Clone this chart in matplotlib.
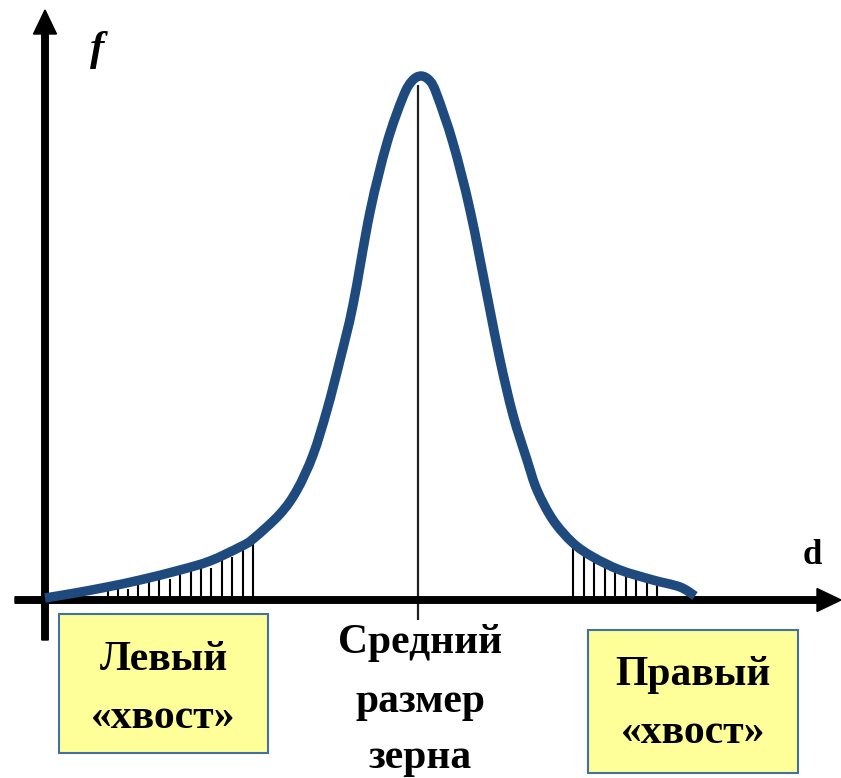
import matplotlib
matplotlib.use("Agg")
import matplotlib.pyplot as plt
import numpy as np
from matplotlib.patches import FancyArrow, Rectangle, PathPatch
from matplotlib.path import Path

# Grain-size distribution curve f(d)
curve_d = [0.00, 0.30, 0.62, 0.95, 1.35, 1.65, 1.95, 2.08, 2.35, 2.52,
           2.68, 2.82, 2.95, 3.08, 3.25, 3.42, 3.58, 3.67, 3.76, 3.85, 3.92,
           4.08, 4.25, 4.43, 4.55, 4.68, 4.82, 4.92, 5.08, 5.28, 5.48, 5.75,
           6.08, 6.35, 6.50]
curve_f = [0.02, 0.07, 0.13, 0.20, 0.30, 0.39, 0.53, 0.61, 0.86, 1.10,
           1.45, 1.90, 2.40, 2.95, 3.88, 4.57, 5.03, 5.19, 5.24, 5.19, 5.05,
           4.57, 3.90, 3.00, 2.40, 1.85, 1.40, 1.10, 0.80, 0.57, 0.43, 0.30,
           0.20, 0.13, 0.04]

# Hatching under the left tail
left_hatch_d = [0.63, 0.73, 0.83, 0.93, 1.04, 1.14, 1.25, 1.35, 1.46, 1.56,
                1.66, 1.77, 1.87, 1.98, 2.08]
left_hatch_f = [0.11, 0.11, 0.11, 0.21, 0.21, 0.21, 0.21, 0.32, 0.32, 0.32,
                0.32, 0.43, 0.43, 0.53, 0.57]

# Hatching under the right tail
right_hatch_d = [5.28, 5.39, 5.49, 5.60, 5.70, 5.81, 5.91, 6.02, 6.12]
right_hatch_f = [0.53, 0.53, 0.42, 0.32, 0.32, 0.32, 0.22, 0.22, 0.22]

# Mean grain size
mean_d = 3.73
mean_top = 5.15

serif = ["Liberation Serif", "DejaVu Serif"]


def smooth_path(xs, ys):
    """Cubic Bezier path passing through every point (Catmull-Rom tangents)."""
    p = np.column_stack([xs, ys]).astype(float)
    ext = np.vstack([p[0], p, p[-1]])
    verts = [p[0]]
    codes = [Path.MOVETO]
    for i in range(len(p) - 1):
        p0, p1, p2, p3 = ext[i], ext[i + 1], ext[i + 2], ext[i + 3]
        c1 = p1 + (p2 - p0) / 6.0
        c2 = p2 - (p3 - p1) / 6.0
        verts += [c1, c2, p2]
        codes += [Path.CURVE4] * 3
    return Path(verts, codes)


fig = plt.figure(figsize=(8.41, 7.78), dpi=100)
ax = fig.add_axes([0, 0, 1, 1])
ax.set_xlim(-0.45, 7.96)
ax.set_ylim(-1.78, 6.00)
ax.axis("off")

# Coordinate axes with arrow heads
ax.add_patch(FancyArrow(-0.30, 0.0, 8.26, 0.0, width=0.065, head_width=0.23,
                        head_length=0.24, length_includes_head=True,
                        color="black", zorder=3))
ax.add_patch(FancyArrow(0.0, -0.40, 0.0, 6.30, width=0.065, head_width=0.23,
                        head_length=0.24, length_includes_head=True,
                        color="black", zorder=3))

# Tail hatching
ax.vlines(left_hatch_d, 0, left_hatch_f, color="black", lw=1.5, zorder=2)
ax.vlines(right_hatch_d, 0, right_hatch_f, color="black", lw=1.5, zorder=2)

# Mean line
ax.vlines(mean_d, -0.20, mean_top, color="#222222", lw=1.6, zorder=2)

# Distribution curve
ax.add_patch(PathPatch(smooth_path(curve_d, curve_f), fill=False,
                       edgecolor="#1F4A7E", lw=6.8, joinstyle="round",
                       capstyle="butt", zorder=4))

# Axis names
ax.text(0.52, 5.50, "f", family=serif, style="italic", weight="bold",
        fontsize=31, ha="center", va="center")
ax.text(7.67, 0.45, "d", family=serif, weight="bold", fontsize=25,
        ha="center", va="center")

# Mean size caption
for line, y in zip(["Средний", "размер", "зерна"], [-0.53, -1.12, -1.68]):
    ax.text(3.75, y, line, family=serif, weight="bold", fontsize=30,
            ha="center", va="baseline")

# Tail captions in boxes
ax.add_patch(Rectangle((0.14, -1.53), 2.09, 1.39, facecolor="#FFFF99",
                       edgecolor="#41719C", lw=1.5, zorder=1))
ax.add_patch(Rectangle((5.43, -1.73), 2.10, 1.43, facecolor="#FFFF99",
                       edgecolor="#41719C", lw=1.5, zorder=1))
for line, y in zip(["Левый", "«хвост»"], [-0.70, -1.28]):
    ax.text(1.185, y, line, family=serif, weight="bold", fontsize=30,
            ha="center", va="baseline", zorder=2)
for line, y in zip(["Правый", "«хвост»"], [-0.85, -1.43]):
    ax.text(6.48, y, line, family=serif, weight="bold", fontsize=30,
            ha="center", va="baseline", zorder=2)

fig.savefig("out.png", dpi=100)
